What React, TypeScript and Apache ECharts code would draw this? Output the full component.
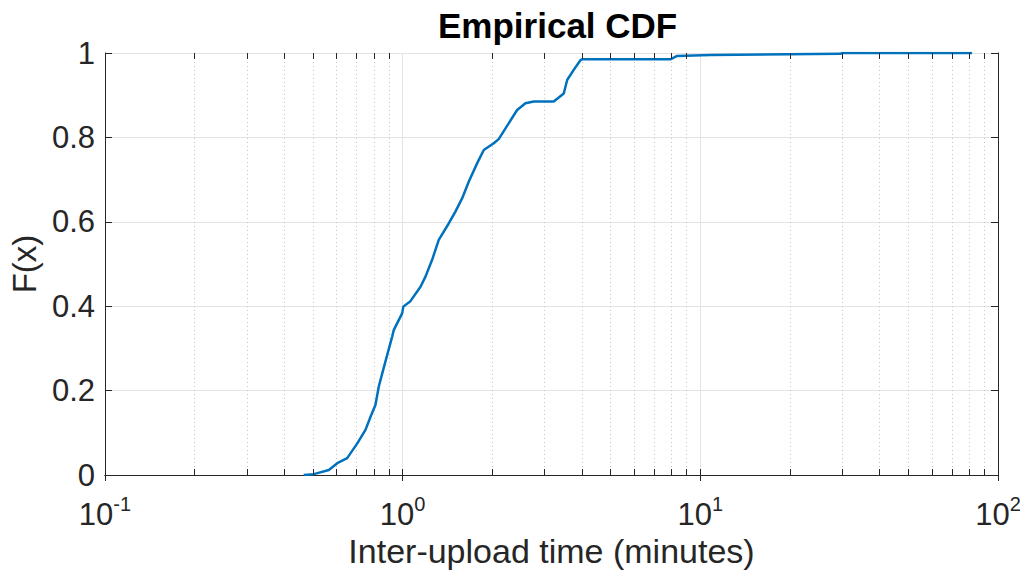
import React, { useEffect, useRef } from "react";
import * as echarts from "echarts";

// Empirical CDF samples (x in minutes, F(x))
const xValues: number[] = [
  0.465, 0.503, 0.565, 0.603, 0.651, 0.704, 0.75, 0.78, 0.81, 0.831, 0.857,
  0.887, 0.922, 0.934, 0.996, 1.005, 1.062, 1.148, 1.193, 1.256, 1.322, 1.428,
  1.504, 1.585, 1.667, 1.78, 1.873, 2.023, 2.102, 2.424, 2.585, 2.757, 3.218,
  3.477, 3.57, 3.756, 3.955, 4.008, 7.935, 8.356, 10.81, 29.55, 29.94, 81.85,
];
const fValues: number[] = [
  0, 0.002, 0.012, 0.028, 0.04, 0.075, 0.107, 0.138, 0.166, 0.209, 0.245,
  0.284, 0.328, 0.344, 0.383, 0.399, 0.412, 0.446, 0.47, 0.51, 0.557, 0.596,
  0.624, 0.656, 0.695, 0.739, 0.77, 0.786, 0.796, 0.865, 0.881, 0.885, 0.885,
  0.904, 0.936, 0.96, 0.983, 0.985, 0.985, 0.993, 0.995, 0.998, 1.0, 1.0,
];
const yTicks: number[] = [0, 0.2, 0.4, 0.6, 0.8, 1];
const decades: number[] = [0.1, 1, 10];
const minorMultipliers: number[] = [2, 3, 4, 5, 6, 7, 8, 9];

const FONT = "'Liberation Sans', Arial, Helvetica, sans-serif";
const TEXT = "#262626";
const AXIS = "#262626";

export default function App() {
  const ref = useRef<HTMLDivElement>(null);
  useEffect(() => {
    if (!ref.current) return;
    const chart = echarts.init(ref.current, undefined, { renderer: "svg" });
    const data = xValues.map((x, i) => [x, fValues[i]]);
    const minorXs: number[] = [];
    decades.forEach((d) => minorMultipliers.forEach((m) => minorXs.push(+(d * m).toPrecision(3))));
    const tickLen = 0.0142;
    const minorGrid = minorXs.map((x) => ({ xAxis: x }));
    const minorTicks: any[] = [];
    minorXs.forEach((x) => {
      minorTicks.push([{ coord: [x, 0] }, { coord: [x, tickLen] }]);
      minorTicks.push([{ coord: [x, 1] }, { coord: [x, 1 - tickLen] }]);
    });
    const logLabel = (v: number) => {
      const e = Math.round(Math.log10(v));
      return `{b|10}{s|${e}}`;
    };
    const rich = {
      b: { fontSize: 31, lineHeight: 40, fontFamily: FONT, color: TEXT },
      s: { fontSize: 20, lineHeight: 17, verticalAlign: "top", fontFamily: FONT, color: TEXT },
    };
    chart.setOption({
      animation: false,
      backgroundColor: "#ffffff",
      title: {
        text: "Empirical CDF",
        left: 433,
        top: 3,
        textStyle: { fontFamily: FONT, fontWeight: "bold", fontSize: 35, color: "#000000" },
      },
      grid: { left: 104, right: 30, top: 53, bottom: 102, containLabel: false },
      xAxis: [
        {
          type: "log",
          logBase: 10,
          min: 0.1,
          max: 100,
          splitNumber: 3,
          name: "Inter-upload time (minutes)",
          nameLocation: "middle",
          nameGap: 59,
          nameTextStyle: { fontFamily: FONT, fontSize: 34, color: TEXT },
          axisLine: { show: true, lineStyle: { color: AXIS, width: 1 } },
          axisTick: { show: true, inside: true, length: 6, lineStyle: { color: AXIS } },
          axisLabel: { margin: 19, formatter: logLabel, rich, color: TEXT },
          splitLine: { show: true, lineStyle: { color: "#e3e3e3", width: 1 } },
        },
        {
          type: "log",
          logBase: 10,
          min: 0.1,
          max: 100,
          splitNumber: 3,
          position: "top",
          axisLine: { show: true, lineStyle: { color: AXIS, width: 1 } },
          axisTick: { show: true, inside: true, length: 6, lineStyle: { color: AXIS } },
          axisLabel: { show: false },
          splitLine: { show: false },
        },
      ],
      yAxis: [
        {
          type: "value",
          min: 0,
          max: 1,
          interval: 0.2,
          name: "F(x)",
          nameLocation: "middle",
          nameGap: 58,
          nameTextStyle: { fontFamily: FONT, fontSize: 33, color: TEXT },
          axisLine: { show: true, lineStyle: { color: AXIS, width: 1 } },
          axisTick: { show: true, inside: true, length: 7, lineStyle: { color: AXIS } },
          axisLabel: {
            margin: 10,
            fontFamily: FONT,
            fontSize: 31,
            color: TEXT,
            formatter: (v: number) => String(+v.toFixed(1)),
          },
          splitLine: { show: true, lineStyle: { color: "#e3e3e3", width: 1 } },
        },
        {
          type: "value",
          min: 0,
          max: 1,
          interval: 0.2,
          position: "right",
          axisLine: { show: true, lineStyle: { color: AXIS, width: 1 } },
          axisTick: { show: true, inside: true, length: 7, lineStyle: { color: AXIS } },
          axisLabel: { show: false },
          splitLine: { show: false },
        },
      ],
      series: [
        {
          type: "line",
          name: "minor",
          data: [],
          silent: true,
          markLine: {
            silent: true,
            symbol: "none",
            z: 1,
            label: { show: false },
            lineStyle: { type: [1, 3], color: "#c4c4c4", width: 1 },
            data: minorGrid,
          },
        },
        {
          type: "line",
          name: "minorTicks",
          data: [],
          silent: true,
          markLine: {
            silent: true,
            symbol: "none",
            z: 6,
            label: { show: false },
            lineStyle: { type: "solid", color: AXIS, width: 1 },
            data: minorTicks,
          },
        },
        {
          type: "line",
          name: "ECDF",
          data,
          showSymbol: false,
          symbol: "none",
          z: 4,
          lineStyle: { color: "#0072BD", width: 2.5 },
          itemStyle: { color: "#0072BD" },
        },
      ],
    });
    return () => chart.dispose();
  }, []);
  return (
    <div
      ref={ref}
      style={{ position: "fixed", left: 0, top: 0, width: 1028, height: 577, background: "#fff" }}
    />
  );
}
